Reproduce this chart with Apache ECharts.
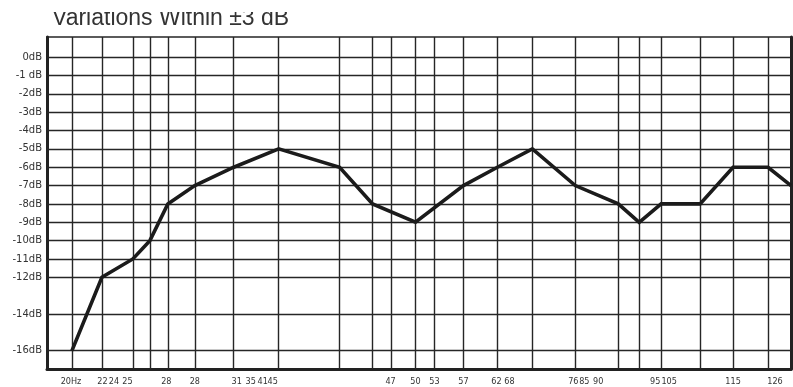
<!DOCTYPE html>
<html><head><meta charset="utf-8">
<script src="https://cdn.jsdelivr.net/npm/echarts@6/dist/echarts.min.js"></script>
<style>html,body{margin:0;padding:0;background:#fff}#c{width:793px;height:387px}</style>
</head><body><div id="c"></div>
<script>
const titleText = 'Variations Within \u00b13 dB';
// horizontal position units of the irregular frequency grid (0 = left edge, 745 = right edge)
const xGridLines = [25,55,86,103,121,148,187,232,293,326,345,369,388,417,451,486,529,572,593,615,654,687,722];
const xLabelPositions = [24,55.5,67,80.5,119.5,148,190,204,216,226,344,369,388,417,450,463,527,538,552,609,623,687,729];
const xLabelTexts = ['20Hz','22','24','25','28','28','31','35','41','45','47','50','53','57','62','68','76','85','90','95','105','115','126'];
const yGridLines = [0,-1,-2,-3,-4,-5,-6,-7,-8,-9,-10,-11,-12,-14,-16];
const yLabelTexts = ['0dB','-1 dB','-2dB','-3dB','-4dB','-5dB','-6dB','-7dB','-8dB','-9dB','-10dB','-11dB','-12dB','-14dB','-16dB'];
const responseX = [25,55,86,103,121,148,187,232,293,326,369,417,451,486,529,572,593,615,654,687,722,745];
const responseDb = [-16,-12,-11,-10,-8,-7,-6,-5,-6,-8,-9,-7,-6,-5,-7,-8,-9,-8,-8,-6,-6,-7];

const chart = echarts.init(document.getElementById('c'), null, {renderer:'canvas'});
const gridColor = '#262626';
chart.setOption({
  animation: false,
  backgroundColor: '#fff',
  title: {
    text: titleText, left: 47, top: 2,
    textStyle: {fontFamily: 'Liberation Sans', fontSize: 23, fontWeight: 'normal', color: '#333'}
  },
  graphic: [{type:'rect', left:0, top:0, z:100, shape:{width:793, height:12}, style:{fill:'#fff'}}],
  grid: {left: 47, right: 2, top: 37, bottom: 18, show: true, borderColor: gridColor, borderWidth: 1.5},
  xAxis: {
    type: 'value', min: 0, max: 745, position: 'bottom',
    axisLine: {show: true, onZero: false, lineStyle: {color: '#222', width: 3}},
    axisTick: {show: false}, splitLine: {show: false},
    axisLabel: {
      customValues: xLabelPositions, margin: 8,
      fontFamily: "'Liberation Sans Narrow', 'DejaVu Sans Condensed', sans-serif", fontSize: 9, color: '#333',
      formatter: v => { const i = xLabelPositions.indexOf(v); return i >= 0 ? xLabelTexts[i] : ''; }
    }
  },
  yAxis: [{
    type: 'value', min: -17, max: 1.1,
    axisLine: {show: true, onZero: false, lineStyle: {color: '#222', width: 3}},
    axisTick: {show: false}, splitLine: {show: false},
    axisLabel: {
      customValues: yGridLines, margin: 5,
      fontFamily: 'DejaVu Sans', fontSize: 10, color: '#333',
      formatter: v => { const i = yGridLines.indexOf(v); return i >= 0 ? yLabelTexts[i] : ''; }
    }
  }, {
    type: 'value', min: -17, max: 1.1, position: 'right',
    axisLine: {show: true, onZero: false, lineStyle: {color: '#222', width: 3}},
    axisTick: {show: false}, splitLine: {show: false}, axisLabel: {show: false}
  }],
  series: [{
    type: 'line', data: [], z: 1, silent: true,
    markLine: {
      silent: true, symbol: ['none','none'], label: {show: false},
      lineStyle: {color: gridColor, width: 1.4, type: 'solid'},
      emphasis: {disabled: true},
      data: xGridLines.map(v => ({xAxis: v})).concat(yGridLines.map(v => ({yAxis: v})))
    }
  }, {
    type: 'line', z: 5, symbol: 'none',
    data: responseX.map((x, i) => [x, responseDb[i]]),
    lineStyle: {color: '#1b1b1b', width: 3.6, join: 'miter'}
  }]
});
</script></body></html>
